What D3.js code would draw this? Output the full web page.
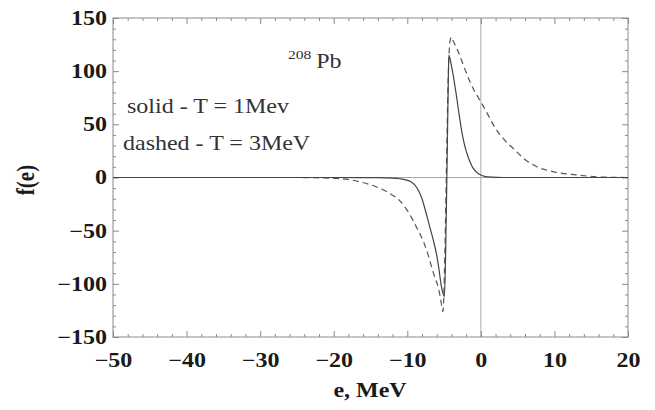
<!DOCTYPE html>
<html>
<head>
<meta charset="utf-8">
<script src="https://cdn.jsdelivr.net/npm/d3@7"></script>
<style>
  body { margin: 0; background: #fff; }
  text { font-family: "Liberation Serif", "DejaVu Serif", serif; }
</style>
</head>
<body>
<div id="chart"></div>
<script>
// values
const eSolid = [-50, -20, -14, -12, -11, -10.2, -9.5, -9, -8.5, -8, -7.5, -7, -6.5, -6, -5.7, -5.4, -5.15, -4.95, -4.8, -4.62, -4.45, -4.35, -4.2, -4.0, -3.8, -3.57, -3.3, -3.12, -2.9, -2.66, -2.3, -1.98, -1.5, -1.08, -0.5, 0, 0.5, 1.5, 3, 20];
const fSolid = [0, 0, -0.2, -0.6, -1.2, -2.2, -4, -7, -12, -20, -32, -45, -58, -73, -86, -101, -109, -112, -75, 0, 80, 115, 112, 105, 98, 88, 76, 67, 57, 46, 33, 24.5, 15, 9, 4.5, 2.3, 1.1, 0.3, 0, 0];

const eDashed = [-50, -25, -22, -20, -18.3, -16.5, -14.5, -12.4, -11, -10.1, -9.4, -8.8, -8.2, -7.7, -7.2, -6.7, -6.2, -5.8, -5.5, -5.15, -4.95, -4.7, -4.45, -4.2, -4.0, -3.8, -3.4, -3.0, -2.4, -1.6, -0.85, 0.1, 1.2, 2, 3, 4.6, 6, 7.5, 9.8, 13, 16.5, 20];
const fDashed = [0, 0, -0.3, -0.8, -1.5, -4, -8, -15, -22, -30, -38, -46, -54, -62, -72, -84, -95, -103, -113, -126, -90, 0, 90, 128, 132, 129, 123, 117, 106, 92, 81, 70, 56, 46, 37, 26, 17, 10.5, 5.5, 2.4, 0.4, 0];

const xMajor = [-50, -40, -30, -20, -10, 0, 10, 20];
const yMajor = [-150, -100, -50, 0, 50, 100, 150];

// set the dimensions and margins of the graph
const margin = { top: 18, right: 27, bottom: 73, left: 113 },
    width = 655 - margin.left - margin.right,
    height = 410 - margin.top - margin.bottom;

const svg = d3.select("#chart")
    .append("svg")
    .attr("width", 655)
    .attr("height", 410);

const g = svg.append("g")
    .attr("transform", `translate(${margin.left},${margin.top})`);

const x = d3.scaleLinear().domain([-50, 20]).range([0, width]);
const y = d3.scaleLinear().domain([-150, 150]).range([height, 0]);

const xMinor = d3.range(-50, 20.01, 2).filter(v => !xMajor.includes(v));
const yMinor = d3.range(-150, 150.01, 10).filter(v => !yMajor.includes(v));

const frameColor = "#8a8a8a";
const stretch = 1.2; // the picture is a bit wider than tall

// zero lines
g.append("line")
    .attr("x1", 0).attr("x2", width)
    .attr("y1", y(0)).attr("y2", y(0))
    .style("stroke", "#a8a8a8").style("stroke-width", 1);
g.append("line")
    .attr("x1", x(0)).attr("x2", x(0))
    .attr("y1", 0).attr("y2", height)
    .style("stroke", "#a8a8a8").style("stroke-width", 1);

// axes, ticks point inward on all four sides
function styleAxis(sel) {
    sel.select(".domain").remove();
    sel.selectAll("line").style("stroke", frameColor);
}

g.append("g")
    .attr("transform", `translate(0,${height})`)
    .call(d3.axisBottom(x).tickValues(xMajor).tickSize(-6).tickPadding(16))
    .call(styleAxis)
    .selectAll("text")
    .attr("transform", `scale(${stretch},1)`)
    .style("font-size", "20px").style("font-weight", "bold").style("fill", "#1a1a1a");
g.append("g")
    .attr("transform", `translate(0,${height})`)
    .call(d3.axisBottom(x).tickValues(xMinor).tickSize(-3).tickFormat(""))
    .call(styleAxis);
g.append("g")
    .call(d3.axisTop(x).tickValues(xMajor).tickSize(-6).tickFormat(""))
    .call(styleAxis);
g.append("g")
    .call(d3.axisTop(x).tickValues(xMinor).tickSize(-3).tickFormat(""))
    .call(styleAxis);

g.append("g")
    .call(d3.axisLeft(y).tickValues(yMajor).tickSize(-6).tickPadding(5))
    .call(styleAxis)
    .selectAll("text")
    .attr("transform", `scale(${stretch},1)`)
    .style("font-size", "20px").style("font-weight", "bold").style("fill", "#1a1a1a");
g.append("g")
    .call(d3.axisLeft(y).tickValues(yMinor).tickSize(-3).tickFormat(""))
    .call(styleAxis);
g.append("g")
    .attr("transform", `translate(${width},0)`)
    .call(d3.axisRight(y).tickValues(yMajor).tickSize(-6).tickFormat(""))
    .call(styleAxis);
g.append("g")
    .attr("transform", `translate(${width},0)`)
    .call(d3.axisRight(y).tickValues(yMinor).tickSize(-3).tickFormat(""))
    .call(styleAxis);

// frame
g.append("rect")
    .attr("width", width).attr("height", height)
    .style("fill", "none").style("stroke", frameColor).style("stroke-width", 1);

// curves
const line = d3.line()
    .x(d => x(d[0]))
    .y(d => y(d[1]))
    .curve(d3.curveMonotoneX);

g.append("path")
    .datum(d3.zip(eDashed, fDashed))
    .attr("d", line)
    .style("fill", "none").style("stroke", "#555")
    .style("stroke-width", 1.2).style("stroke-dasharray", "6,4");

g.append("path")
    .datum(d3.zip(eSolid, fSolid))
    .attr("d", line)
    .style("fill", "none").style("stroke", "#444")
    .style("stroke-width", 1.2);

// axis titles
svg.append("text")
    .attr("transform", `translate(${370},${397}) scale(${stretch},1)`)
    .attr("text-anchor", "middle")
    .style("font-size", "20px").style("font-weight", "bold").style("fill", "#1a1a1a")
    .text("e, MeV");

svg.append("text")
    .attr("transform", `translate(${34},${180}) rotate(-90) scale(1,${stretch})`)
    .attr("text-anchor", "middle")
    .style("font-size", "21px").style("font-weight", "bold").style("fill", "#1a1a1a")
    .text("f(e)");

// annotations
const note = svg.append("g").style("fill", "#333");
note.append("text")
    .attr("transform", `translate(127,113) scale(${stretch},1)`)
    .style("font-size", "20px")
    .text("solid - T = 1Mev");
note.append("text")
    .attr("transform", `translate(123,150) scale(${stretch},1)`)
    .style("font-size", "20px")
    .text("dashed - T = 3MeV");

const pb = note.append("text")
    .attr("transform", `translate(288,68) scale(${stretch},1)`)
    .style("font-size", "20px");
pb.append("tspan").attr("dy", -9).style("font-size", "13px").text("208");
pb.append("tspan").attr("dy", 9).attr("dx", 4).text("Pb");
</script>
</body>
</html>
